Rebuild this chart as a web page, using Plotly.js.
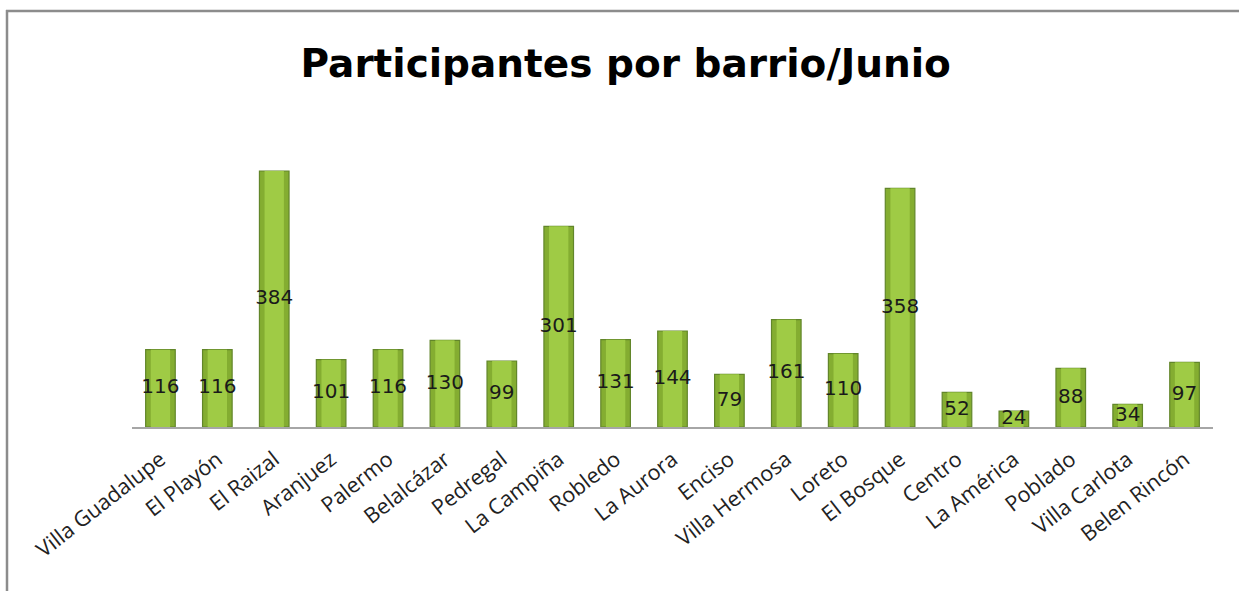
<!DOCTYPE html>
<html>
<head>
<meta charset="utf-8">
<script src="https://cdn.plot.ly/plotly-3.0.1.min.js"></script>
<style>html,body{margin:0;padding:0;background:#fff;}#chart{width:1239px;height:591px;}</style>
</head>
<body>
<div id="chart"></div>
<script>
const barrios = ["Villa Guadalupe","El Playón","El Raizal","Aranjuez","Palermo","Belalcázar","Pedregal","La Campiña","Robledo","La Aurora","Enciso","Villa Hermosa","Loreto","El Bosque","Centro","La América","Poblado","Villa Carlota","Belen Rincón"];
const participantes = [116,116,384,101,116,130,99,301,131,144,79,161,110,358,52,24,88,34,97];

const mL = 132, mR = 26, mT = 100, mB = 164, W = 1239, H = 591;
const pw = W - mL - mR, ph = H - mT - mB;
const px2x = p => (p - mL) / pw;
const py2y = p => (H - mB - p) / ph;

const barsOuter = {
  type: 'bar', x: barrios, y: participantes, width: 0.52,
  marker: {color: '#84ad31', line: {color: '#62862a', width: 1.2}},
  hoverinfo: 'x+y'
};
const barsInner = {
  type: 'bar', x: barrios, y: participantes, width: 0.34,
  marker: {color: '#9fcb45', line: {width: 0}},
  hoverinfo: 'skip'
};
const labels = {
  type: 'scatter', mode: 'text', x: barrios,
  y: participantes.map(v => v / 2),
  text: participantes.map(String),
  textposition: 'middle center',
  textfont: {family: 'DejaVu Sans', size: 20, color: '#1a1a1a'},
  hoverinfo: 'skip', cliponaxis: false
};

const layout = {
  width: W, height: H,
  margin: {l: mL, r: mR, t: mT, b: mB},
  paper_bgcolor: '#fff', plot_bgcolor: '#fff',
  showlegend: false, barmode: 'overlay',
  title: {text: '<b>Participantes por barrio/Junio</b>', font: {family: 'DejaVu Sans', size: 39, color: '#000'},
          x: 0.505, xanchor: 'center', yref: 'container', y: 1 - 63 / H, yanchor: 'middle'},
  xaxis: {type: 'category', range: [-0.5, barrios.length - 0.5], tickangle: -38, showline: true, linecolor: '#a6a6a6', linewidth: 1.5,
          ticks: '', showgrid: false, zeroline: false, automargin: false, ticklabelstandoff: 10,
          tickfont: {family: 'Open Sans, Liberation Sans', size: 21.5, color: '#222'}},
  yaxis: {range: [0, ph / (256 / 384)], visible: false, showgrid: false, zeroline: false, automargin: false},
  shapes: [
    {type: 'line', xref: 'paper', yref: 'paper', x0: px2x(7), x1: px2x(7), y0: py2y(10), y1: py2y(600), line: {color: '#8c8c8c', width: 2.5}},
    {type: 'line', xref: 'paper', yref: 'paper', x0: px2x(6), x1: px2x(1245), y0: py2y(11), y1: py2y(11), line: {color: '#8c8c8c', width: 2.5}}
  ]
};
Plotly.newPlot('chart', [barsOuter, barsInner, labels], layout, {displayModeBar: false, staticPlot: true});
</script>
</body>
</html>
